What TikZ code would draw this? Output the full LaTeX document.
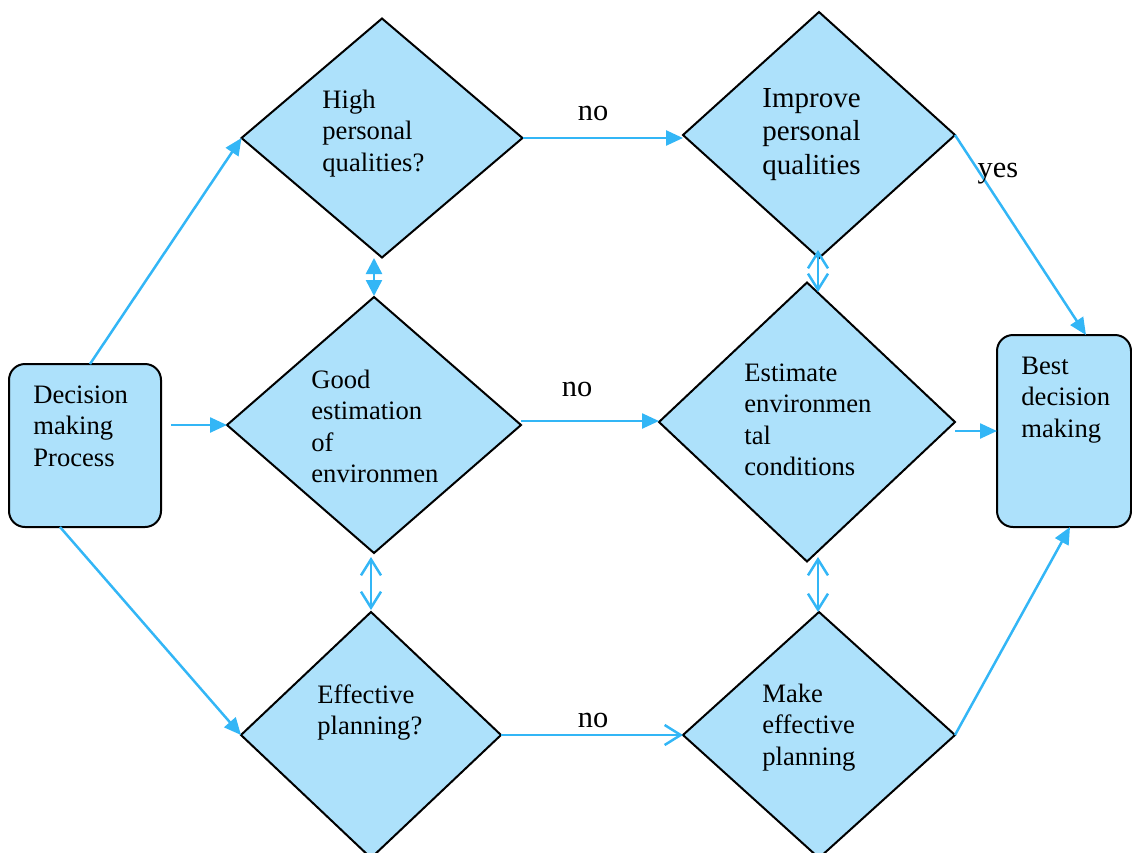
\documentclass[tikz,border=0pt]{standalone}
\usepackage{fontspec}
\setmainfont{Liberation Serif}
\usetikzlibrary{shapes.geometric,arrows.meta}
\definecolor{boxfill}{RGB}{173,225,251}
\definecolor{linkblue}{RGB}{51,182,246}
\begin{document}
\begin{tikzpicture}[x=0.5pt,y=-0.5pt,
  dia/.style={diamond,draw=black,fill=boxfill,line width=1pt,inner sep=0pt,outer sep=0pt},
  rbox/.style={rectangle,rounded corners=8pt,draw=black,fill=boxfill,line width=1pt,inner sep=0pt,outer sep=0pt},
  % multi-line texts are placed by the baseline of their last line
  txt/.style={anchor=base west,align=left,inner sep=0pt,font=\fontsize{13.3}{15.75}\selectfont},
  bigtxt/.style={txt,font=\fontsize{14.5}{16.75}\selectfont},
  lbl/.style={anchor=base,inner sep=0pt,font=\fontsize{15.2}{18}\selectfont},
  link/.style={draw=linkblue,line width=1.25pt},
  fa/.style={link,-{Triangle[length=8.5pt,width=7.5pt]}},
  oa/.style={link,-{Straight Barb[length=8pt,width=10pt]}},
  fboth/.style={link,{Triangle[length=8pt,width=8pt]}-{Triangle[length=8pt,width=8pt]}},
  oboth/.style={link,{Straight Barb[length=8pt,width=10pt]}-{Straight Barb[length=8pt,width=10pt]}}]
\useasboundingbox (0,0) rectangle (1132,853);

% start and end boxes
\node[rbox,minimum width=76pt,minimum height=81.5pt] (start) at (85,445.5) {};
\node[rbox,minimum width=67pt,minimum height=96pt] (best) at (1064,431) {};

% decision diamonds, left column
\node[dia,minimum width=140.5pt,minimum height=119.5pt] (qual) at (382,138) {};
\node[dia,minimum width=147pt,minimum height=128pt] (env) at (374,425) {};
\node[dia,minimum width=130pt,minimum height=123pt] (plan) at (371,735) {};
% action diamonds, right column
\node[dia,minimum width=136pt,minimum height=123pt] (impq) at (819,135) {};
\node[dia,minimum width=148pt,minimum height=139.5pt] (impe) at (807,422) {};
\node[dia,minimum width=136pt,minimum height=123pt] (impp) at (819,735) {};

% texts
\node[txt] (tstart) at (33,466) {Decision\\making\\Process};
\node[txt] (tbest) at (1021,437) {Best\\decision\\making};
\node[txt] (tqual) at (322,171) {High\\personal\\qualities?};
\node[txt] (tenv) at (311,482.5) {Good\\estimation\\of\\environmen};
\node[txt] (tplan) at (317,734.5) {Effective\\planning?};
\node[bigtxt] (timpq) at (762,174) {Improve\\personal\\qualities};
\node[txt] (timpe) at (744,475.5) {Estimate\\environmen\\tal\\conditions};
\node[txt] (timpp) at (762,765) {Make\\effective\\planning};

% connectors from the start box
\draw[fa] ([xshift=2.5pt]start.north) -- (qual.west);
\draw[fa] ([xshift=5pt]start.east |- env.west) -- (env.west);
\draw[fa] ([xshift=-12.5pt]start.south) -- (plan.west);

% "no" branches
\draw[fa] (qual.east) -- (qual.east -| impq.west);
\draw[fa] ([yshift=2pt]env.east) -- ([yshift=2pt]env.east -| impe.west);
\draw[oa] (plan.east) -- (impp.west);
\node[lbl] (no1) at (593,120) {no};
\node[lbl] (no2) at (577,396) {no};
\node[lbl] (no3) at (593,727) {no};

% into the final box
\draw[fa] (impq.east) -- ([xshift=11pt]best.north);
\node[lbl] (yes) at (998,177) {yes};
\draw[fa] (best.west -| impe.east) -- (best.west);
\draw[fa] (impp.east) -- ([xshift=3pt]best.south);

% two-way links between the rows
\coordinate (a1) at (374,258);
\coordinate (a2) at (374,296);
\draw[fboth] (a1) -- (a2);
\coordinate (b1) at (371,557);
\coordinate (b2) at (371,610);
\draw[oboth] (b1) -- (b2);
\coordinate (c1) at (818,250);
\coordinate (c2) at (818,292);
\draw[oboth] (c1) -- (c2);
\coordinate (d1) at (818,557);
\coordinate (d2) at (818,612);
\draw[oboth] (d1) -- (d2);
\end{tikzpicture}
\end{document}
